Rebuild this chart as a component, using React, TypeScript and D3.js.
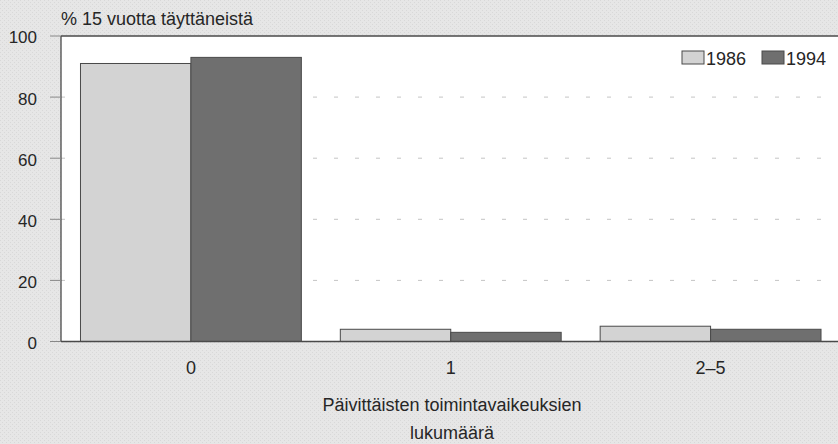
import React from "react";
import * as d3 from "d3";

const categories = ["0", "1", "2–5"];
const seriesNames = ["1986", "1994"];
const values1986 = [91, 4, 5];
const values1994 = [93, 3, 4];
const yTicks = [0, 20, 40, 60, 80, 100];
const gridTicks = [20, 40, 60, 80];
const title = "% 15 vuotta täyttäneistä";
const xTitle1 = "Päivittäisten toimintavaikeuksien";
const xTitle2 = "lukumäärä";

const W = 838;
const H = 444;
const left = 61;
const right = 840.5;
const top = 36;
const bottom = 341.5;

const colors = ["#d3d3d3", "#6f6f6f"];
const font = "'Liberation Sans', Arial, Helvetica, sans-serif";
const textColor = "#262626";

export default function App() {
  const x = d3.scaleBand<string>().domain(categories).range([left, right]).paddingInner(0.15).paddingOuter(0.075);
  const xs = d3.scaleBand<string>().domain(seriesNames).range([0, x.bandwidth()]);
  const y = d3.scaleLinear().domain([0, 100]).range([bottom, top]);
  const series = [values1986, values1994];

  return (
    <svg width={W} height={H} style={{ position: "absolute", left: 0, top: 0 }} fontFamily={font}>
      <defs>
        <pattern id="noise" width="4" height="4" patternUnits="userSpaceOnUse">
          <rect width="4" height="4" fill="#e6e6e6" />
          <rect x="0" y="0" width="1" height="1" fill="#d8d8d8" />
          <rect x="2" y="2" width="1" height="1" fill="#d8d8d8" />
        </pattern>
      </defs>
      <rect width={W} height={H} fill="url(#noise)" />
      <rect x={left} y={top} width={right - left} height={bottom - top} fill="#ffffff" />
      {gridTicks.map((t) => (
        <line key={t} x1={left} x2={right} y1={y(t)} y2={y(t)} stroke="#c4c4c4" strokeWidth={1} strokeDasharray="4 17" />
      ))}
      {categories.map((c, i) => (
        <g key={c}>
          {series.map((vals, s) => (
            <rect
              key={s}
              x={(x(c) ?? 0) + (xs(seriesNames[s]) ?? 0)}
              y={y(vals[i])}
              width={xs.bandwidth()}
              height={bottom - y(vals[i])}
              fill={colors[s]}
              stroke="#4a4a4a"
              strokeWidth={1}
            />
          ))}
        </g>
      ))}
      <line x1={left} x2={right} y1={top} y2={top} stroke="#4a4a4a" strokeWidth={1.3} />
      <line x1={left} x2={left} y1={top} y2={bottom} stroke="#4a4a4a" strokeWidth={1.3} />
      <line x1={left} x2={right} y1={bottom} y2={bottom} stroke="#4a4a4a" strokeWidth={1.3} />
      {yTicks.map((t) => (
        <g key={t}>
          <line x1={50} x2={left} y1={y(t)} y2={y(t)} stroke="#888" strokeWidth={1} />
          <text x={37} y={y(t) + 3} textAnchor="end" dominantBaseline="middle" fontSize={17} fill={textColor}>
            {t}
          </text>
        </g>
      ))}
      {categories.map((c) => (
        <text key={c} x={(x(c) ?? 0) + x.bandwidth() / 2} y={374} textAnchor="middle" fontSize={18} fill={textColor}>
          {c}
        </text>
      ))}
      <text x={61} y={25} fontSize={18} fill={textColor}>{title}</text>
      <text x={452} y={411} textAnchor="middle" fontSize={18} fill={textColor}>{xTitle1}</text>
      <text x={452} y={439} textAnchor="middle" fontSize={18} fill={textColor}>{xTitle2}</text>
      {seriesNames.map((n, s) => {
        const lx = [682, 762][s];
        return (
          <g key={n}>
            <rect x={lx} y={51} width={22} height={13} fill={colors[s]} stroke="#4a4a4a" strokeWidth={1} />
            <text x={lx + 24} y={65} fontSize={18} fill={textColor}>{n}</text>
          </g>
        );
      })}
    </svg>
  );
}
